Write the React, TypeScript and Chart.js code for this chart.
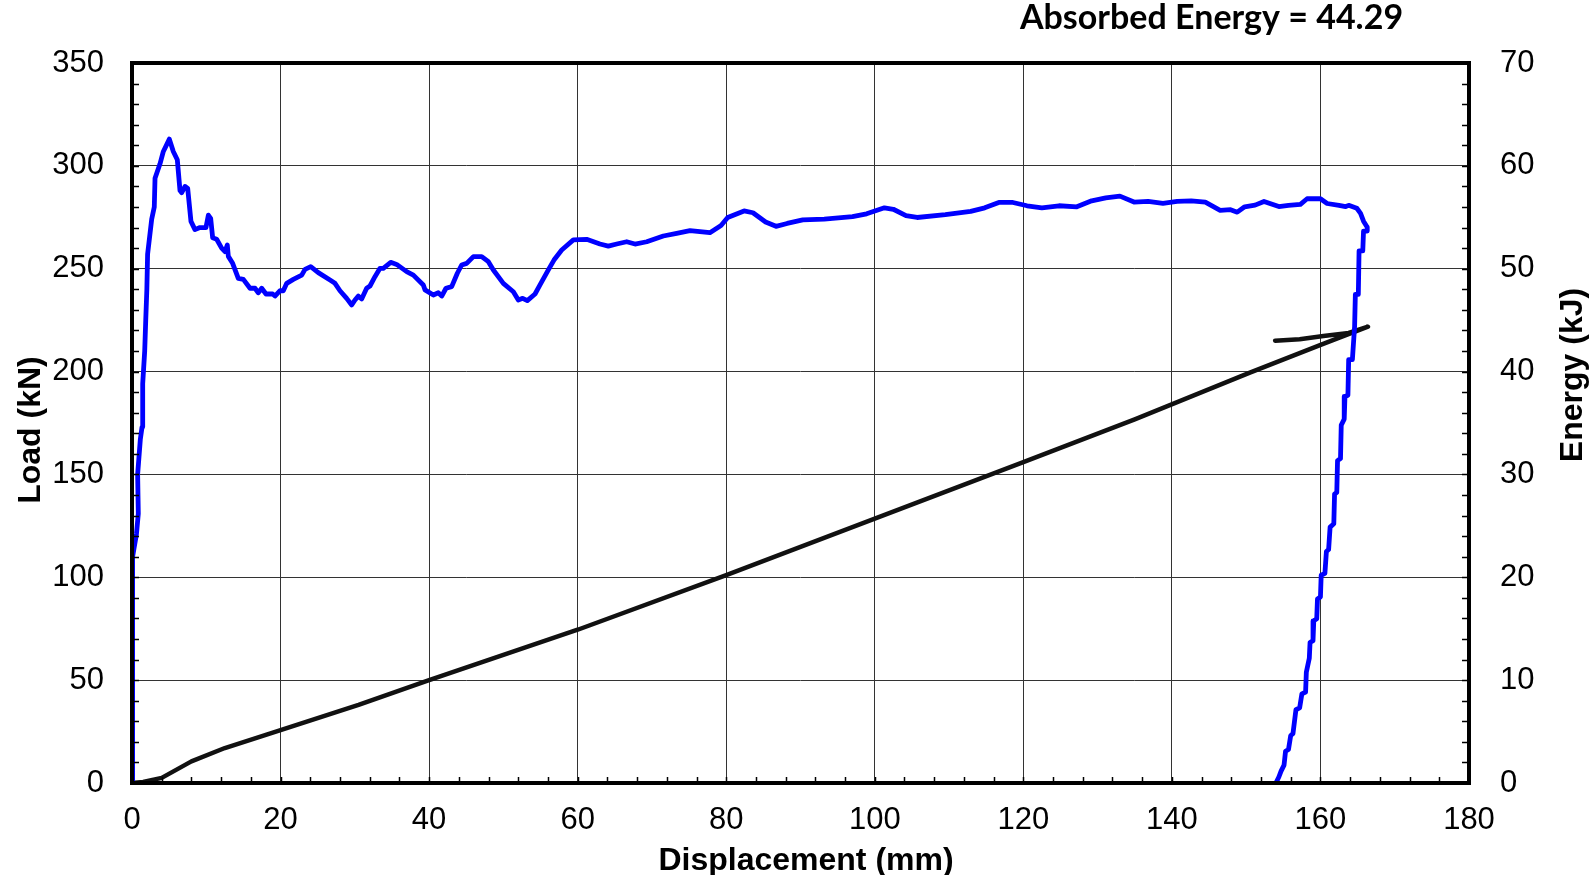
import React, { useEffect, useRef } from 'react';
import { Chart, registerables } from 'chart.js';

Chart.register(...registerables);

const W = 1591;
const H = 875;

// Load–displacement trace (mm, kN)
const loadDisp = [
  0, 0.05, 0.08, 0.1, 0.1, 0.6, 0.85, 0.76, 1.12, 1.35, 1.44, 1.71, 1.85, 2.0, 2.1, 2.65, 3.0, 3.1, 3.77, 4.22,
  5.03, 5.56, 6.1, 6.46, 6.69, 7.14, 7.5, 7.94, 8.48, 9.15, 9.96, 10.28, 10.59, 10.86, 11.4, 12.07, 12.52, 12.83,
  12.97, 13.55, 14.31, 14.99, 15.89, 16.56, 17.0, 17.46, 18.04, 18.94, 19.25, 19.93, 20.37, 20.83, 21.72, 22.85,
  23.29, 24.06, 25.08, 26.66, 27.33, 28.0, 28.9, 29.58, 30.02, 30.47, 30.92, 31.59, 32.04, 32.71, 33.39, 33.83,
  34.83, 35.63, 36.98, 37.88, 39.22, 39.45, 40.57, 41.24, 41.7, 42.27, 43.04, 43.8, 44.38, 45.06, 45.96, 47.08,
  47.98, 48.65, 49.99, 51.34, 52.01, 52.6, 53.22, 54.26, 54.93, 56.05, 56.81, 57.85, 59.42, 61.21, 63.0, 64.13,
  65.25, 66.6, 67.72, 69.3, 71.53, 73.33, 75.12, 77.8, 79.3, 80.2, 82.4, 83.6, 85.3, 86.7, 88.2, 90.3, 93.2, 97.0,
  98.9, 101.3, 102.5, 104.2, 105.7, 109.5, 112.9, 114.8, 116.7, 118.6, 120.5, 122.5, 124.8, 127.2, 129.2, 131.1,
  133.0, 134.9, 136.8, 138.8, 140.7, 142.6, 144.5, 146.5, 147.9, 148.8, 149.8, 151.2, 152.4, 153.5, 154.4, 155.7,
  157.3, 158.2, 160.0, 160.9, 162.5, 163.4, 163.8, 164.9, 165.4, 165.8, 166.3, 166.3, 165.8, 165.7, 165.2, 165.1,
  164.7, 164.6, 164.3, 163.8, 163.7, 163.3, 163.2, 162.8, 162.7, 162.3, 162.2, 161.9, 161.8, 161.3, 161.1, 160.8,
  160.6, 160.1, 160.0, 159.6, 159.5, 159.1, 159.0, 158.6, 158.5, 158.1, 158.0, 157.5, 157.2, 156.7, 156.5, 156.3,
  156.0, 155.7, 155.3, 155.1, 154.7, 154.4, 154.0,
];
const loadKN = [
  0, 20, 50, 80, 110, 121, 131, 150, 167, 173, 194, 210, 225, 240, 257, 274, 280, 294, 301, 307,
  313, 307, 303, 288, 287, 290, 289, 273, 269, 270, 270, 276, 274.5, 265, 264.3, 260, 258.3, 261.5,
  256, 252.6, 245.3, 244.8, 240.5, 240.5, 238.3, 240.5, 237.7, 237.7, 236.7, 239.3, 239.3, 242.9, 244.8, 246.9,
  249.7, 251, 248.1, 244.5, 242.9, 239.3, 235.6, 232.4, 234.8, 236.7, 235.3, 240.5, 241.6, 246.1, 250.2, 250.2,
  253.1, 252.1, 248.6, 246.9, 242.1, 239.7, 237.2, 238.3, 236.7, 240.5, 241.3, 247.8, 251.8, 252.6, 255.9, 255.9,
  253.4, 249.4, 242.9, 238.8, 234.8, 235.6, 234.5, 237.7, 242.1, 249.4, 254.2, 259.1, 264, 264.3, 262, 261,
  262, 263.1, 262, 263.1, 265.9, 267.2, 268.5, 267.5, 271, 274.9, 278.1, 277.2, 272.7, 270.6, 272, 273.7, 274.1, 275.3,
  276.7, 279.6, 278.9, 275.8, 274.9, 276.3, 277.9, 279.6, 282.2, 282.2, 280.6, 279.6, 280.6, 280.1, 283, 284.4,
  285.3, 282.4, 282.7, 281.8, 282.7, 283, 282.4, 278.4, 278.7, 277.5, 280.1, 280.9, 282.7, 281.3, 280.2, 280.8,
  281.3, 284, 284, 281.7, 280.8, 280.2, 280.8, 279.4, 276.9, 273.1, 270.2, 268.3, 268.3, 258.7, 258.7, 237.5,
  237.5, 222, 205.8, 205.8, 188.5, 187.9, 176.9, 174, 157.7, 156.7, 141.3, 140.4, 126, 124.4, 113.5, 112.5,
  101.9, 101, 90.4, 89.4, 79.8, 78.8, 69.2, 68.3, 60.6, 53.8, 44.2, 43.3, 36.5, 35.6, 29.8, 24,
  23.1, 16.3, 15.4, 8.7, 5.8, 2.9, 0,
];

// Cumulative absorbed energy (mm, kJ); the last points trace the short return stroke
const energyDisp = [0, 1.5, 4.0, 8.0, 12.5, 20.0, 30.5, 40.0, 60.0, 80.0, 120.0, 135.0, 150.5, 160.2, 166.4, 163.8, 160.4, 157.2, 153.9];
const energyKJ = [0, 0.1, 0.5, 2.1, 3.4, 5.15, 7.6, 10.0, 14.9, 20.2, 31.2, 35.35, 39.9, 42.65, 44.36, 43.75, 43.46, 43.14, 43.0];

const dispTicks = [0, 20, 40, 60, 80, 100, 120, 140, 160, 180];
const loadTicks = [0, 50, 100, 150, 200, 250, 300, 350];
const energyTicks = [0, 10, 20, 30, 40, 50, 60, 70];

const headline = 'Absorbed Energy = 44.29';
const xTitle = 'Displacement (mm)';
const yTitle = 'Load (kN)';
const y2Title = 'Energy (kJ)';

const TICK_FONT = { family: "'Liberation Sans', Arial, sans-serif", size: 31 };
const TITLE_FONT = "bold 32px 'Liberation Sans', Arial, sans-serif";

const decor = {
  id: 'decor',
  afterDatasetsDraw(chart: any) {
    const { ctx, chartArea: a, scales } = chart;
    ctx.save();
    ctx.strokeStyle = '#000';
    ctx.lineWidth = 1.5;
    ctx.beginPath();
    // inward minor ticks
    for (let v = 0; v <= 180; v += 4) {
      const px = Math.round(scales.x.getPixelForValue(v)) + 0.5;
      ctx.moveTo(px, a.bottom);
      ctx.lineTo(px, a.bottom - 6);
    }
    for (let v = 0; v <= 350; v += 10) {
      const py = Math.round(scales.y.getPixelForValue(v)) + 0.5;
      ctx.moveTo(a.left, py);
      ctx.lineTo(a.left + 7, py);
    }
    for (let v = 0; v <= 70; v += 2) {
      const py = Math.round(scales.y2.getPixelForValue(v)) + 0.5;
      ctx.moveTo(a.right, py);
      ctx.lineTo(a.right - 7, py);
    }
    ctx.stroke();
    // plot frame
    ctx.lineWidth = 4;
    ctx.strokeRect(a.left, a.top, a.right - a.left, a.bottom - a.top);
    ctx.restore();
  },
  afterDraw(chart: any) {
    const { ctx } = chart;
    ctx.save();
    ctx.fillStyle = '#000';
    ctx.textBaseline = 'middle';
    ctx.textAlign = 'center';
    ctx.font = TITLE_FONT;
    ctx.fillText(xTitle, 806, 861);

    ctx.save();
    ctx.translate(31, 430);
    ctx.rotate(-Math.PI / 2);
    ctx.fillText(yTitle, 0, 0);
    ctx.restore();

    ctx.save();
    ctx.translate(1573, 375);
    ctx.rotate(-Math.PI / 2);
    ctx.fillText(y2Title, 0, 0);
    ctx.restore();

    // headline, fitted to its box
    ctx.textAlign = 'left';
    ctx.font = "bold 30px Lato, 'Open Sans', sans-serif";
    const w30 = ctx.measureText(headline).width;
    const size = (30 * 383) / w30;
    ctx.font = `bold ${size.toFixed(1)}px Lato, 'Open Sans', sans-serif`;
    ctx.fillText(headline, 1020, 18);
    ctx.restore();
  },
};

export default function App() {
  const ref = useRef<HTMLCanvasElement>(null);

  useEffect(() => {
    document.body.style.margin = '0';
    const loadData = loadDisp.map((x, i) => ({ x, y: loadKN[i] }));
    const energyData = energyDisp.map((x, i) => ({ x, y: energyKJ[i] }));
    const gridColor = '#333333';

    const chart = new Chart(ref.current!, {
      type: 'line',
      data: {
        datasets: [
          {
            label: 'Load',
            data: loadData,
            yAxisID: 'y',
            borderColor: '#0000ff',
            borderWidth: 4.8,
            pointRadius: 0,
            tension: 0,
            borderJoinStyle: 'round',
            borderCapStyle: 'round',
          },
          {
            label: 'Energy',
            data: energyData,
            yAxisID: 'y2',
            borderColor: '#111111',
            borderWidth: 4.5,
            pointRadius: 0,
            tension: 0,
            borderJoinStyle: 'round',
            borderCapStyle: 'round',
          },
        ],
      },
      options: {
        responsive: false,
        animation: false,
        devicePixelRatio: 1,
        layout: { padding: { top: 63, left: 0, right: 0, bottom: 0 } },
        plugins: { legend: { display: false }, tooltip: { enabled: false }, title: { display: false } },
        scales: {
          x: {
            type: 'linear',
            position: 'bottom',
            min: 0,
            max: 180,
            afterBuildTicks: (s: any) => { s.ticks = dispTicks.map((value) => ({ value })); },
            afterFit: (s: any) => { s.height = H - 783; },
            grid: { color: gridColor, lineWidth: 1, drawTicks: false },
            border: { display: false },
            ticks: { color: '#000', font: TICK_FONT, padding: 19, maxRotation: 0, autoSkip: false },
          },
          y: {
            type: 'linear',
            position: 'left',
            min: 0,
            max: 350,
            afterBuildTicks: (s: any) => { s.ticks = loadTicks.map((value) => ({ value })); },
            afterFit: (s: any) => { s.width = 132; },
            grid: { color: gridColor, lineWidth: 1, drawTicks: false },
            border: { display: false },
            ticks: { color: '#000', font: TICK_FONT, padding: 28, autoSkip: false },
          },
          y2: {
            type: 'linear',
            position: 'right',
            min: 0,
            max: 70,
            afterBuildTicks: (s: any) => { s.ticks = energyTicks.map((value) => ({ value })); },
            afterFit: (s: any) => { s.width = W - 1469; },
            grid: { drawOnChartArea: false, drawTicks: false },
            border: { display: false },
            ticks: { color: '#000', font: TICK_FONT, padding: 31, autoSkip: false },
          },
        },
      },
      plugins: [decor],
    } as any);

    return () => chart.destroy();
  }, []);

  return (
    <div style={{ width: W, height: H }}>
      <canvas ref={ref} width={W} height={H} style={{ display: 'block' }} />
    </div>
  );
}
